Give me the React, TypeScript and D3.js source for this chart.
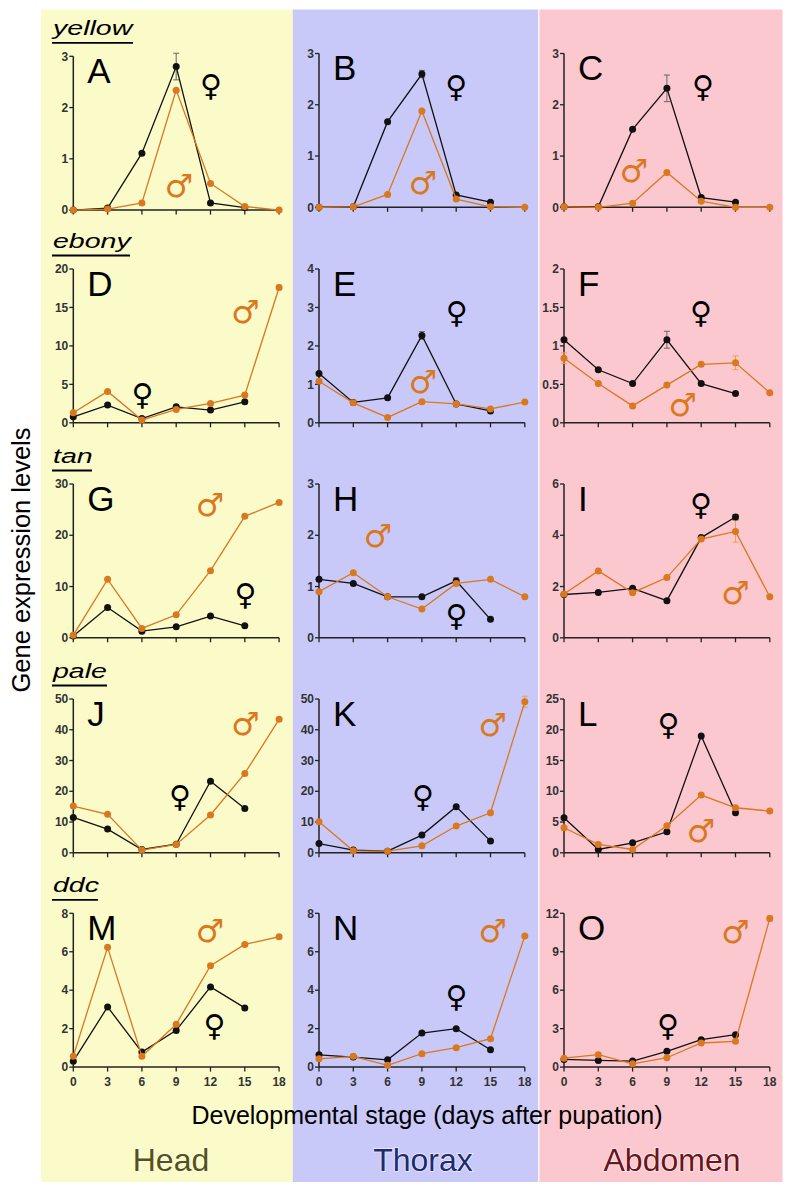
import React from 'react';
import * as d3 from 'd3';

// ---------------- data ----------------
const days = [0, 3, 6, 9, 12, 15, 18];
const femaleDays = [0, 3, 6, 9, 12, 15];
const xTickLabels = ['0', '3', '6', '9', '12', '15', '18'];
const genes = ['yellow', 'ebony', 'tan', 'pale', 'ddc'];
const tissues = ['Head', 'Thorax', 'Abdomen'];
const letters = ['A', 'B', 'C', 'D', 'E', 'F', 'G', 'H', 'I', 'J', 'K', 'L', 'M', 'N', 'O'];

// female: days 0-15, male: days 0-18
const yellowHeadF = [0, 0.04, 1.11, 2.8, 0.14, 0.05];
const yellowHeadM = [0, 0.02, 0.14, 2.34, 0.52, 0.07, 0];
const yellowThoraxF = [0, 0.01, 1.67, 2.6, 0.24, 0.1];
const yellowThoraxM = [0, 0.01, 0.25, 1.88, 0.16, 0.01, 0];
const yellowAbdomenF = [0.01, 0.01, 1.52, 2.32, 0.19, 0.1];
const yellowAbdomenM = [0.01, 0, 0.08, 0.68, 0.12, 0, 0];
const ebonyHeadF = [0.78, 2.3, 0.56, 2.08, 1.65, 2.73];
const ebonyHeadM = [1.3, 4.08, 0.35, 1.74, 2.52, 3.6, 17.6];
const ebonyThoraxF = [1.28, 0.53, 0.65, 2.27, 0.49, 0.31];
const ebonyThoraxM = [1.08, 0.52, 0.14, 0.55, 0.49, 0.36, 0.54];
const ebonyAbdomenF = [1.08, 0.69, 0.51, 1.08, 0.51, 0.38];
const ebonyAbdomenM = [0.84, 0.51, 0.22, 0.49, 0.76, 0.78, 0.39];
const tanHeadF = [0.33, 5.9, 1.3, 2.15, 4.23, 2.34];
const tanHeadM = [0.52, 11.4, 1.82, 4.49, 13.1, 23.7, 26.4];
const tanThoraxF = [1.14, 1.06, 0.8, 0.8, 1.11, 0.36];
const tanThoraxM = [0.9, 1.27, 0.8, 0.56, 1.06, 1.14, 0.8];
const tanAbdomenF = [1.69, 1.77, 1.93, 1.45, 3.91, 4.71];
const tanAbdomenM = [1.71, 2.61, 1.76, 2.35, 3.85, 4.15, 1.6];
const paleHeadF = [11.5, 7.7, 1.08, 2.8, 23.3, 14.4];
const paleHeadM = [15.2, 12.5, 0.87, 2.7, 12.3, 25.8, 43.4];
const paleThoraxF = [3.0, 0.87, 0.54, 5.75, 15.0, 3.8];
const paleThoraxM = [10.1, 0.65, 0.54, 2.28, 8.7, 13.0, 49.1];
const paleAbdomenF = [5.7, 0.54, 1.63, 3.42, 19.0, 6.5];
const paleAbdomenM = [4.07, 1.36, 0.54, 4.39, 9.38, 7.32, 6.78];
const ddcHeadF = [0.31, 3.13, 0.78, 1.91, 4.17, 3.08];
const ddcHeadM = [0.57, 6.23, 0.56, 2.23, 5.27, 6.38, 6.78];
const ddcThoraxF = [0.64, 0.52, 0.38, 1.77, 2.0, 0.9];
const ddcThoraxM = [0.43, 0.56, 0.09, 0.7, 1.01, 1.48, 6.82];
const ddcAbdomenF = [0.6, 0.52, 0.47, 1.23, 2.14, 2.53];
const ddcAbdomenM = [0.7, 0.97, 0.26, 0.73, 1.88, 2.01, 11.6];

const femaleSeries = [
  yellowHeadF, yellowThoraxF, yellowAbdomenF,
  ebonyHeadF, ebonyThoraxF, ebonyAbdomenF,
  tanHeadF, tanThoraxF, tanAbdomenF,
  paleHeadF, paleThoraxF, paleAbdomenF,
  ddcHeadF, ddcThoraxF, ddcAbdomenF,
];
const maleSeries = [
  yellowHeadM, yellowThoraxM, yellowAbdomenM,
  ebonyHeadM, ebonyThoraxM, ebonyAbdomenM,
  tanHeadM, tanThoraxM, tanAbdomenM,
  paleHeadM, paleThoraxM, paleAbdomenM,
  ddcHeadM, ddcThoraxM, ddcAbdomenM,
];

const yMaxes = [3, 3, 3, 20, 4, 2, 30, 3, 6, 50, 50, 25, 8, 8, 12];
const yTickSteps = [1, 1, 1, 5, 1, 0.5, 10, 1, 2, 10, 10, 5, 2, 2, 3];

// error bars: [panel index, sex, day index, half-width]
const errorBars: [number, string, number, number][] = [
  [0, 'F', 3, 0.26],
  [1, 'F', 3, 0.07],
  [2, 'F', 3, 0.26],
  [3, 'M', 6, 0.3],
  [4, 'F', 3, 0.1],
  [5, 'F', 3, 0.11],
  [5, 'M', 0, 0.07],
  [5, 'M', 5, 0.09],
  [7, 'F', 4, 0.06],
  [8, 'M', 5, 0.42],
  [8, 'F', 5, 0.1],
  [9, 'M', 6, 0.6],
  [10, 'M', 6, 1.8],
  [14, 'M', 6, 0.2],
];

// sex symbol positions in data coordinates [day, value]
const femaleMarks = [
  [12.05, 2.44], [12.0, 2.36], [12.16, 2.36],
  [6.05, 3.65], [12.04, 2.87], [11.99, 1.43],
  [15.07, 8.54], [12.03, 0.44], [11.99, 5.19],
  [9.33, 18.3], [9.1, 18.3], [9.14, 20.8],
  [12.35, 2.17], [12.03, 3.66], [9.1, 3.26],
];
const maleMarks = [
  [9.25, 0.46], [9.1, 0.45], [6.12, 0.68],
  [15.07, 14.3], [9.1, 1.03], [10.4, 0.22],
  [11.96, 25.8], [5.16, 1.96], [15.0, 1.71],
  [15.07, 41.4], [15.2, 41.3], [12.0, 3.42],
  [11.96, 7.04], [15.2, 7.02], [15.0, 10.5],
];

// ---------------- layout ----------------
const W = 793;
const H = 1192;
const colX0 = [73.3, 319, 564];
const plotW = 205.8;
const rowTop = [53.5, 269, 484, 699, 913.3];
const plotH = 153.8;
const bgX = [41, 292.8, 538.8, 782.5];
const bgTop = 9.5;
const bgBottom = 1182;
const bgColors = ['#fbfac9', '#c9c9f9', '#fcc8cf'];
const tissueColors = ['#545217', '#1c2c72', '#6a151b'];
const tissueX = [171, 423, 672];
const orange = '#d9781e';
const black = '#111';
const FONT = "'Liberation Sans', Arial, Helvetica, sans-serif";

function Panel({ idx }: { idx: number }) {
  const row = Math.floor(idx / 3);
  const col = idx % 3;
  const x0 = colX0[col];
  let top = rowTop[row];
  if (idx === 0) top = 56.3;
  const bottom = top + plotH;
  const x = d3.scaleLinear().domain([0, 18]).range([x0, x0 + plotW]);
  const y = d3.scaleLinear().domain([0, yMaxes[idx]]).range([bottom, top]);
  const ticks = d3.range(0, yMaxes[idx] + 1e-9, yTickSteps[idx]);
  const line = d3.line<[number, number]>().x((d) => x(d[0])).y((d) => y(d[1]));
  const fPts: [number, number][] = femaleSeries[idx].map((v, i) => [femaleDays[i], v]);
  const mPts: [number, number][] = maleSeries[idx].map((v, i) => [days[i], v]);
  const errs = errorBars.filter((e) => e[0] === idx);
  const fm = femaleMarks[idx];
  const mm = maleMarks[idx];
  return (
    <g>
      {/* x axis */}
      <line x1={x0} x2={x0 + plotW} y1={bottom} y2={bottom} stroke="#222" strokeWidth={1.5} />
      {days.map((d) => (
        <line key={'xt' + d} x1={x(d)} x2={x(d)} y1={bottom} y2={bottom + 4.5} stroke="#222" strokeWidth={1.3} />
      ))}
      {row === 4 &&
        days.map((d, i) => (
          <text key={'xl' + d} x={x(d)} y={bottom + 19} textAnchor="middle" fontFamily={FONT} fontWeight="bold" fontSize={12} fill="#333">
            {xTickLabels[i]}
          </text>
        ))}
      {/* y axis */}
      <line x1={x0} x2={x0} y1={top} y2={bottom} stroke="#222" strokeWidth={1.5} />
      {ticks.map((t) => (
        <g key={'yt' + t}>
          <line x1={x0 - 4} x2={x0} y1={y(t)} y2={y(t)} stroke="#222" strokeWidth={1.3} />
          <text x={x0 - 5} y={y(t) + 4.2} textAnchor="end" fontFamily={FONT} fontWeight="bold" fontSize={12} fill="#333">
            {String(t)}
          </text>
        </g>
      ))}
      {/* panel letter */}
      <text x={x0 + 14} y={top + 26.5} fontFamily={FONT} fontSize={35} fill="#000">
        {letters[idx]}
      </text>
      {/* error bars */}
      {errs.map((e, k) => {
        const isF = e[1] === 'F';
        const v = isF ? femaleSeries[idx][e[2]] : maleSeries[idx][e[2]];
        const d = isF ? femaleDays[e[2]] : days[e[2]];
        const cx = x(d);
        const c = isF ? '#666' : '#e8a060';
        return (
          <g key={'e' + k} stroke={c} strokeWidth={1}>
            <line x1={cx} x2={cx} y1={y(v - e[3])} y2={y(v + e[3])} />
            <line x1={cx - 3} x2={cx + 3} y1={y(v + e[3])} y2={y(v + e[3])} />
            <line x1={cx - 3} x2={cx + 3} y1={y(v - e[3])} y2={y(v - e[3])} />
          </g>
        );
      })}
      {/* female */}
      <path d={line(fPts) || ''} fill="none" stroke={black} strokeWidth={1.3} />
      {fPts.map((p, i) => (
        <circle key={'f' + i} cx={x(p[0])} cy={y(p[1])} r={3.5} fill={black} />
      ))}
      {/* male */}
      <path d={line(mPts) || ''} fill="none" stroke={orange} strokeWidth={1.3} />
      {mPts.map((p, i) => (
        <circle key={'m' + i} cx={x(p[0])} cy={y(p[1])} r={3.5} fill={orange} />
      ))}
      {/* sex symbols */}
      <text x={x(fm[0])} y={y(fm[1]) + 10.5} textAnchor="middle" fontFamily="'DejaVu Sans'" fontWeight="bold" fontSize={30} fill="#000">
        ♀
      </text>
      <text x={x(mm[0])} y={y(mm[1]) + 10} textAnchor="middle" fontFamily="'DejaVu Sans'" fontWeight="bold" fontSize={32} fill={orange}>
        ♂
      </text>
    </g>
  );
}

export default function App() {
  return (
    <svg width={W} height={H} viewBox={`0 0 ${W} ${H}`} style={{ display: 'block', position: 'absolute', left: 0, top: 0 }}>
      <rect x={0} y={0} width={W} height={H} fill="#fff" />
      {bgColors.map((c, i) => (
        <rect key={'bg' + i} x={bgX[i]} y={bgTop} width={bgX[i + 1] - bgX[i]} height={bgBottom - bgTop} fill={c} />
      ))}
      <line x1={bgX[2]} x2={bgX[2]} y1={bgTop} y2={bgBottom} stroke="#fff" strokeWidth={1.2} />
      {genes.map((g, r) => {
        const uy = (r === 0 ? 56.3 : rowTop[r]) - 13.5;
        return (
          <text
            key={g}
            transform={`translate(53,${uy - 7.5}) scale(1.36,1)`}
            fontFamily={FONT}
            fontStyle="italic"
            fontSize={21}
            fill="#000"
          >
            {g}
          </text>
        );
      })}
      {genes.map((g, r) => {
        const uy = (r === 0 ? 56.3 : rowTop[r]) - 13.5;
        const ends = [133, 130, 92, 107, 98];
        return <line key={'u' + g} x1={52} x2={ends[r]} y1={uy} y2={uy} stroke="#000" strokeWidth={1.8} />;
      })}
      {letters.map((l, i) => (
        <Panel key={l} idx={i} />
      ))}
      <text x={30} y={560} transform="rotate(-90,30,560)" textAnchor="middle" fontFamily={FONT} fontSize={25.5} fill="#000">
        Gene expression levels
      </text>
      <text x={427} y={1123.5} textAnchor="middle" fontFamily={FONT} fontSize={25} fill="#000">
        Developmental stage (days after pupation)
      </text>
      {tissues.map((t, i) => (
        <text
          key={t}
          x={tissueX[i]}
          y={1171}
          textAnchor="middle"
          fontFamily={FONT}
          fontSize={32}
          fill={tissueColors[i]}
          stroke="#fff"
          strokeWidth={1.6}
          strokeOpacity={0.7}
          paintOrder="stroke"
        >
          {t}
        </text>
      ))}
    </svg>
  );
}
